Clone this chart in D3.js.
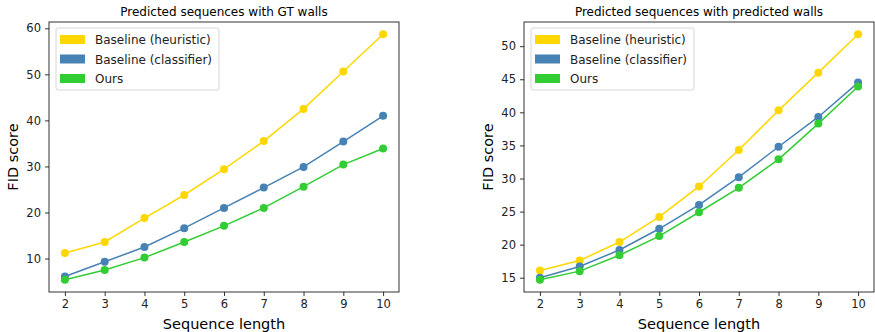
<!DOCTYPE html>
<html>
<head>
<meta charset="utf-8">
<script src="https://cdn.jsdelivr.net/npm/d3@7"></script>
<style>
  body { margin: 0; background: #fff; }
  svg { font-family: "DejaVu Sans", sans-serif; }
</style>
</head>
<body>
<svg id="chart" width="875" height="332"></svg>
<script>
const seqLengths = [2, 3, 4, 5, 6, 7, 8, 9, 10];
const seriesNames = ['Baseline (heuristic)', 'Baseline (classifier)', 'Ours'];
const seriesColors = ['#FFD700', '#4682B4', '#32CD32'];

// GT walls
const gtHeuristic = [11.2, 13.6, 18.8, 23.8, 29.4, 35.5, 42.5, 50.6, 58.7];
const gtClassifier = [6.1, 9.3, 12.5, 16.6, 21.0, 25.4, 29.9, 35.4, 41.0];
const gtOurs = [5.4, 7.5, 10.2, 13.6, 17.1, 21.0, 25.6, 30.4, 33.9];
const gtTicks = [10, 20, 30, 40, 50, 60];

// predicted walls
const predHeuristic = [16.1, 17.6, 20.4, 24.2, 28.8, 34.3, 40.3, 46.0, 51.8];
const predClassifier = [15.0, 16.7, 19.2, 22.4, 26.0, 30.2, 34.8, 39.3, 44.5];
const predOurs = [14.7, 16.0, 18.4, 21.3, 24.9, 28.6, 32.9, 38.3, 43.9];
const predTicks = [15, 20, 25, 30, 35, 40, 45, 50];

const svg = d3.select('#chart');

function drawPanel({ left, right, top, bottom, title, series, yTicks }) {
  const w = right - left;
  const h = bottom - top;
  const g = svg.append('g').attr('transform', `translate(${left},${top})`);

  // matplotlib style 5% margins
  const xPad = (10 - 2) * 0.05;
  const x = d3.scaleLinear().domain([2 - xPad, 10 + xPad]).range([0, w]);
  const all = series.flat();
  const lo = d3.min(all), hi = d3.max(all);
  const yPad = (hi - lo) * 0.05;
  const y = d3.scaleLinear().domain([lo - yPad, hi + yPad]).range([h, 0]);

  const xAxis = g.append('g')
    .attr('transform', `translate(0,${h})`)
    .call(d3.axisBottom(x).tickValues(seqLengths).tickFormat(d3.format('d')).tickSize(4).tickPadding(4));
  const yAxis = g.append('g')
    .call(d3.axisLeft(y).tickValues(yTicks).tickFormat(d3.format('d')).tickSize(4).tickPadding(4));
  [xAxis, yAxis].forEach(a => {
    a.select('.domain').remove();
    a.selectAll('line').attr('stroke', '#000').attr('stroke-width', 0.8);
    a.selectAll('text').attr('fill', '#222').style('font-size', '11.5px').style('font-family', '"DejaVu Sans", sans-serif');
  });

  // lines + markers
  const line = d3.line().x((d, i) => x(seqLengths[i])).y(d => y(d));
  series.forEach((vals, si) => {
    g.append('path')
      .datum(vals)
      .attr('d', line)
      .attr('fill', 'none')
      .attr('stroke', seriesColors[si])
      .attr('stroke-width', 1.5);
    g.selectAll(null)
      .data(vals)
      .enter().append('circle')
      .attr('cx', (d, i) => x(seqLengths[i]))
      .attr('cy', d => y(d))
      .attr('r', 4)
      .attr('fill', seriesColors[si]);
  });

  // frame
  g.append('rect')
    .attr('width', w).attr('height', h)
    .attr('fill', 'none').attr('stroke', '#000').attr('stroke-width', 0.8);

  // title + labels
  g.append('text')
    .attr('x', w / 2).attr('y', -6)
    .attr('text-anchor', 'middle')
    .style('font-size', '12px')
    .text(title);
  g.append('text')
    .attr('x', w / 2).attr('y', h + 37)
    .attr('text-anchor', 'middle')
    .style('font-size', '14.5px')
    .text('Sequence length');
  g.append('text')
    .attr('transform', `translate(${-31},${h / 2}) rotate(-90)`)
    .attr('text-anchor', 'middle')
    .style('font-size', '14.5px')
    .text('FID score');

  // legend
  const lg = g.append('g').attr('transform', 'translate(7,6)');
  lg.append('rect')
    .attr('width', 163).attr('height', 62)
    .attr('rx', 2)
    .attr('fill', '#fff').attr('fill-opacity', 0.8)
    .attr('stroke', '#ccc').attr('stroke-width', 0.8);
  seriesNames.forEach((name, i) => {
    const row = lg.append('g').attr('transform', `translate(4,${11 + i * 19.5})`);
    row.append('rect')
      .attr('x', 0).attr('y', -4)
      .attr('width', 25).attr('height', 9)
      .attr('fill', seriesColors[i]);
    row.append('text')
      .attr('x', 35).attr('y', 5)
      .style('font-size', '12px')
      .attr('fill', '#222')
      .text(name);
  });
}

drawPanel({
  left: 49, right: 399, top: 22, bottom: 292,
  title: 'Predicted sequences with GT walls',
  series: [gtHeuristic, gtClassifier, gtOurs],
  yTicks: gtTicks
});

drawPanel({
  left: 524, right: 874, top: 22, bottom: 292,
  title: 'Predicted sequences with predicted walls',
  series: [predHeuristic, predClassifier, predOurs],
  yTicks: predTicks
});
</script>
</body>
</html>
